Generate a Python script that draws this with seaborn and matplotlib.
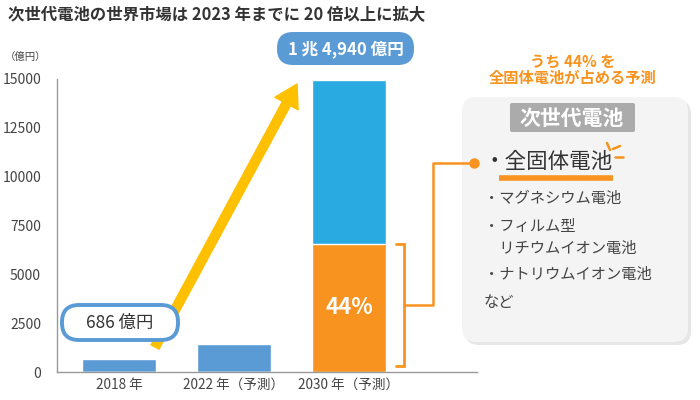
import matplotlib
matplotlib.use('Agg')
import matplotlib.pyplot as plt
import seaborn as sns
import pandas as pd
from matplotlib.patches import FancyBboxPatch

# data
years = ['2018 年', '2022 年（予測）', '2030 年（予測）']
totals = [686, 1450, 14940]          # 億円
solid_share = [0, 0, 44]              # % held by 全固体電池
bar_colors = ['#5B9BD5', '#5B9BD5', '#29ABE2']
y_ticks = [0, 2500, 5000, 7500, 10000, 12500, 15000]
other_items = ['・マグネシウム電池', '・フィルム型', '　リチウムイオン電池', '・ナトリウムイオン電池', 'など']

df = pd.DataFrame({'year': years, 'total': totals, 'share': solid_share})
df['solid'] = df['total'] * df['share'] / 100

sns.set_theme(style='white')
plt.rcParams['font.family'] = ['Noto Sans CJK JP', 'DejaVu Sans']

ORANGE = '#F7931E'
BLUE = '#5B9BD5'
TXT = '#444444'

fig = plt.figure(figsize=(7, 4), dpi=100)


def px(x, y):
    # pixel position -> figure fraction
    return x / 700, 1 - y / 400


def rbox(x0, y0, x1, y1, r, **kw):
    # rounded box given in pixels (top-left / bottom-right)
    p = FancyBboxPatch(px(x0, y1), (x1 - x0) / 700, (y1 - y0) / 400,
                       transform=fig.transFigure, mutation_aspect=700 / 400,
                       boxstyle=f'round,pad=0,rounding_size={r / 700}', **kw)
    fig.add_artist(p)
    return p


# side panel sits under the axes (axes background made transparent)
rbox(465, 100, 691, 345, 14, fc='#e6e6e6', ec='none', zorder=-2)
rbox(462, 97, 688, 342, 14, fc='#f4f4f4', ec='none', zorder=-1)
rbox(510, 103, 635, 132, 2, fc='#ababab', ec='none', zorder=-1)

ax = fig.add_axes([57 / 700, 28 / 400, 420 / 700, 293 / 400])
ax.patch.set_alpha(0)
sns.barplot(data=df, x='year', y='total', hue='year', palette=bar_colors,
            legend=False, width=0.635, saturation=1, ax=ax)
sns.barplot(data=df, x='year', y='solid', color=ORANGE, width=0.635,
            saturation=1, ax=ax)

ax.set_xlim(-0.539, 3.113)
ax.set_ylim(0, 15000)
ax.set_yticks(y_ticks)
ax.set_yticklabels([str(t) for t in y_ticks], fontsize=10, color=TXT)
ax.set_xlabel('')
ax.set_ylabel('')
ax.tick_params(axis='x', length=0, labelsize=9.8, labelcolor=TXT, pad=4)
ax.tick_params(axis='y', length=9.5, width=1.2, color='#c8c8c8', pad=2)
for s in ['top', 'right']:
    ax.spines[s].set_visible(False)
for s in ['left', 'bottom']:
    ax.spines[s].set_color('#999999')
    ax.spines[s].set_linewidth(1)

# title and unit
fig.text(*px(8, 15), '次世代電池の世界市場は 2023 年までに 20 倍以上に拡大',
         fontsize=11.8, color='#333333', fontweight='bold', va='center', ha='left')
fig.text(*px(26, 57), '（億円）', fontsize=7.5, color=TXT, va='center', ha='center')

# growth arrow
ax.annotate('', xy=(1.548, 14744), xytext=(0.313, 1280),
            arrowprops=dict(arrowstyle='simple,head_length=1.6,head_width=1.9,tail_width=0.65',
                            color='#FFC000', mutation_scale=10, shrinkA=0, shrinkB=0))

# value labels
rbox(62, 305, 178, 340, 17, fc='white', ec=BLUE, lw=2.8, zorder=3)
fig.text(*px(120, 323), f'{totals[0]} 億円', fontsize=12.5, color='#333333',
         ha='center', va='center', zorder=4)
big = f'{totals[2]:,}'
rbox(277, 32, 414, 65, 16, fc=BLUE, ec='none', zorder=3)
fig.text(*px(346, 49), f'1 兆 {big[-5:]} 億円', fontsize=12, color='white',
         ha='center', va='center', fontweight='bold', zorder=4)
ax.text(2, df['solid'][2] / 2, f'{solid_share[2]}%', fontsize=16, color='white',
        ha='center', va='center', fontweight='bold')

# bracket and connector
top_o = df['solid'][2]
ax.plot([2.41, 2.48, 2.48, 2.41], [top_o, top_o, 300, 300], color=ORANGE, lw=2,
        solid_joinstyle='miter')
mid = (top_o + 300) / 2
ax.plot([2.48, 2.73, 2.73, 3.09], [mid, mid, 10700, 10700], color=ORANGE, lw=1.8,
        clip_on=False)
ax.plot([3.09], [10700], 'o', color=ORANGE, ms=6.5, clip_on=False)

# panel texts
fig.text(*px(572, 118), '次世代電池', fontsize=15, color='white', fontweight='bold',
         ha='center', va='center')
fig.text(*px(573, 70), 'うち 44% を\n全固体電池が占める予測', fontsize=11, color=ORANGE,
         fontweight='bold', ha='center', va='center', linespacing=1.05)

fig.text(*px(484, 162), '・全固体電池', fontsize=15.5, color='#333333', ha='left', va='center')
fig.add_artist(plt.Line2D([499 / 700, 613 / 700], [1 - 178 / 400] * 2, color=ORANGE, lw=4,
                          solid_capstyle='butt', transform=fig.transFigure))
for (x0, y0, x1, y1) in [(607, 143, 610, 150), (613, 149, 620, 146), (615, 157, 623, 157)]:
    fig.add_artist(plt.Line2D([x0 / 700, x1 / 700], [1 - y0 / 400, 1 - y1 / 400],
                              color=ORANGE, lw=1.8, transform=fig.transFigure))

for label, y in zip(other_items, [198, 227, 248, 275, 303]):
    fig.text(*px(484, y), label, fontsize=11, color=TXT, ha='left', va='center')

fig.savefig('out.png', dpi=100)
